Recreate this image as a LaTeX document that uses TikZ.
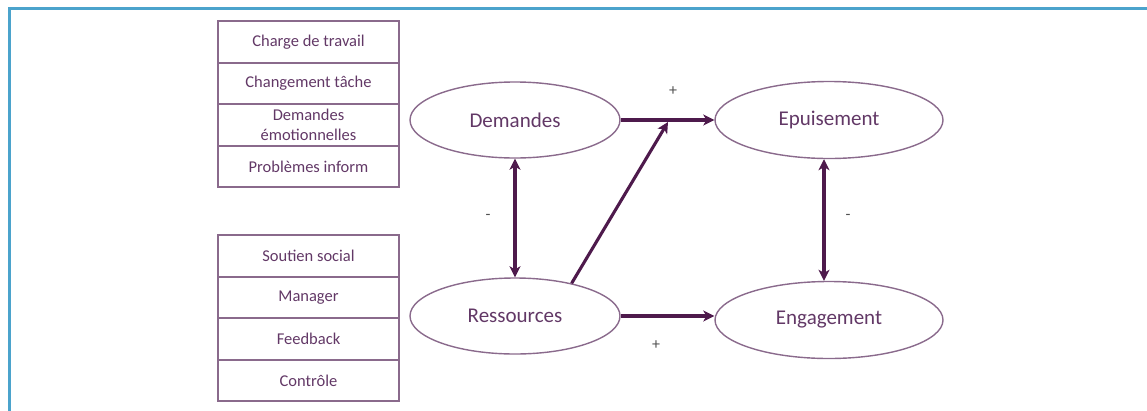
\documentclass[tikz,border=0pt]{standalone}
\usepackage{fontspec}
\setmainfont{Carlito}
\usetikzlibrary{shapes.geometric,arrows.meta}
\definecolor{frameblue}{HTML}{4BA3CC}
\definecolor{boxline}{HTML}{8A6A8C}
\definecolor{txtpurple}{HTML}{623866}
\definecolor{arrpurple}{HTML}{4E1A4C}
\definecolor{signgray}{HTML}{505050}
\tikzset{
  rowbox/.style={draw=boxline, line width=1.8pt, minimum width=181pt, minimum height=41.5pt,
    inner sep=0pt, text=txtpurple, font=\fontsize{16.5}{20}\selectfont, align=center},
  oval/.style={ellipse, draw=boxline, line width=1.4pt, inner sep=0pt, text=txtpurple,
    font=\fontsize{21}{25}\selectfont},
  conn/.style={draw=arrpurple, line width=3.1pt, -{Stealth[length=11pt,width=11pt,inset=3pt]}},
  dconn/.style={draw=arrpurple, line width=3.1pt, {Stealth[length=11pt,width=11pt,inset=3pt]}-{Stealth[length=11pt,width=11pt,inset=3pt]}},
  sign/.style={text=signgray, font=\fontsize{16}{19}\selectfont, inner sep=0pt}
}
\begin{document}
\begin{tikzpicture}[x=1pt,y=-1pt]
\useasboundingbox (0,0) rectangle (1147,410);
\draw[frameblue, line width=3pt] (9,412) -- (9,8) -- (1149,8);
% demand boxes
\node[rowbox] (b1) at (308.5,42) {Charge de travail};
\node[rowbox] (b2) at (308.5,83.5) {Changement tâche};
\node[rowbox] (b3) at (308.5,125) {Demandes\\émotionnelles};
\node[rowbox] (b4) at (308.5,166.5) {Problèmes inform};
% resource boxes
\node[rowbox] (c1) at (308.5,256) {Soutien social};
\node[rowbox] (c2) at (308.5,297.5) {Manager};
\node[rowbox] (c3) at (308.5,339) {Feedback};
\node[rowbox] (c4) at (308.5,380.5) {Contrôle};
% ellipses
\node[oval, minimum width=210pt, minimum height=76pt] (dem) at (515,120) {Demandes};
\node[oval, minimum width=210pt, minimum height=76pt] (res) at (515,316) {Ressources};
\node[oval, minimum width=228pt, minimum height=77pt] (epu) at (829,120) {Epuisement};
\node[oval, minimum width=228pt, minimum height=77pt] (eng) at (829,320) {Engagement};
% connectors
\coordinate (m) at (668,122);
\draw[conn] (dem.east) -- (epu.west);
\draw[conn] (res.east) -- (res.east -| eng.west);
\draw[conn] (res.30) -- (m);
\draw[dconn] (dem.south) -- (res.north);
\draw[dconn] ([xshift=-5pt]epu.south) -- ([xshift=-5pt]eng.north);
% signs
\node[sign] (p1) at (673,91) {+};
\node[sign] (p2) at (656,345) {+};
\node[sign] (n1) at (488,217) {-};
\node[sign] (n2) at (848,217) {-};
\end{tikzpicture}
\end{document}
